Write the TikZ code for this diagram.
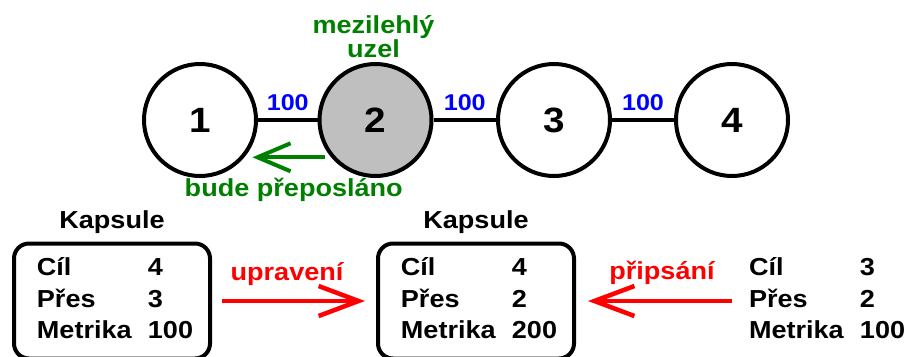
\documentclass[tikz,border=0pt]{standalone}
\usepackage{fontspec}
\setmainfont{Liberation Sans}[FakeStretch=1.1]
\usetikzlibrary{arrows.meta}
\definecolor{darkgreen}{RGB}{0,128,0}

% the three rows of a capsule
\newcommand{\kapsulerows}[3]{%
  \begin{tabular}{@{\hspace{0.12cm}}p{2.22cm}@{}l@{}}
  Cíl & #1\\
  Přes & #2\\
  Metrika & #3
  \end{tabular}}

\begin{document}
\begin{tikzpicture}[line width=0.08cm,font=\bfseries\fontsize{14}{17.9}\selectfont,
  vertex/.style={circle,draw,minimum size=2.24cm,inner sep=0pt,font=\bfseries\fontsize{20}{24}\selectfont},
  weight/.style={midway,above=1pt,text=blue,font=\bfseries\fontsize{13}{15}\selectfont},
  note/.style={text=darkgreen},
  forward/.style={darkgreen,-{Straight Barb[length=0.66cm,width=0.56cm]}},
  kapsule/.style={draw,rounded corners=0.3cm,minimum width=3.92cm,minimum height=2.3cm,inner sep=0pt,label={above:Kapsule}},
  change/.style={red,line width=0.09cm,-{Straight Barb[length=0.8cm,width=0.6cm]}}]
\useasboundingbox (0,0) rectangle (18.1,7.12);

% network
\node[vertex] (n1) at (4,4.72) {1};
\node[vertex,fill=black!25] (n2) at (7.51,4.72) {2};
\node[vertex] (n3) at (11.08,4.72) {3};
\node[vertex] (n4) at (14.64,4.72) {4};
\draw (n1) -- node[weight] {100} (n2)
      (n2) -- node[weight] {100} (n3)
      (n3) -- node[weight] {100} (n4);

\node[note,align=center,anchor=south,inner sep=0pt,font=\bfseries\fontsize{14}{13}\selectfont] (mid) at (7.47,5.92) {mezilehlý\\uzel};
\draw[forward,shorten <=0.13cm,shorten >=0.16cm] (n2.220.9) --
      node[note,anchor=base,yshift=-0.78cm,xshift=0.12cm] {bude přeposláno} (n1.-40.9);

% capsules
\node[kapsule] (box1) at (2.24,1.1) {\kapsulerows{4}{3}{100}};
\node[kapsule] (box2) at (9.52,1.1) {\kapsulerows{4}{2}{200}};
\node[anchor=west,inner xsep=0.18cm] (new) at (14.64,1.1) {\kapsulerows{3}{2}{100}};

\draw[change,shorten <=0.2cm,shorten >=0.22cm] (box1) --
      node[anchor=base,yshift=0.42cm,xshift=-0.14cm] {upravení} (box2);
\draw[change,shorten >=0.24cm] (new) --
      node[anchor=base,yshift=0.44cm,xshift=0.16cm] {připsání} (box2);

\end{tikzpicture}
\end{document}
